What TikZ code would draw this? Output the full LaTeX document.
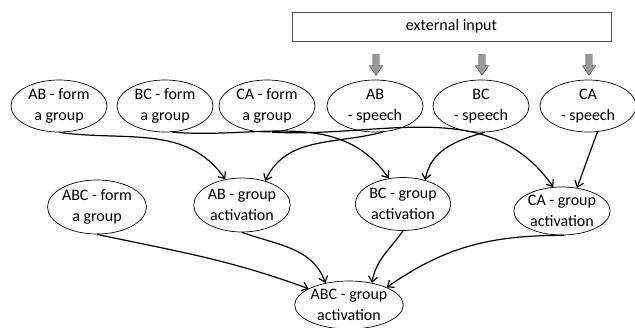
\documentclass[tikz,border=0pt]{standalone}
\usepackage{fontspec}
\setmainfont{Carlito}
\usepackage{tikz}
\usetikzlibrary{arrows.meta}
\usetikzlibrary{shapes.geometric}
\usetikzlibrary{shapes.arrows}

\begin{document}
\begin{tikzpicture}[x=1pt,y=1pt,
        oval/.style={draw,line width=0.7pt,ellipse,inner sep=0pt,align=center,font=\fontsize{16}{21}\selectfont,minimum width=96pt,minimum height=52pt},
        link/.style={line width=1.2pt,-{Straight Barb[length=5.5pt,width=9pt]}},
        feed/.style={draw=black!75,fill=black!40,single arrow,rotate=-90,inner sep=3pt,single arrow head extend=3.5pt,single arrow tip angle=70,minimum height=21pt}]
        \useasboundingbox (0,0) rectangle (635,-327);
        \node[draw=black!70,minimum width=319pt,minimum height=29pt,font=\fontsize{16}{21}\selectfont] (ext) at (451.5,-26.5) {external input};
        \node[oval] (abform) at (59,-106) {AB - form\\a group};
        \node[oval] (bcform) at (165,-106) {BC - form\\a group};
        \node[oval] (caform) at (267,-106) {CA - form\\a group};
        \node[oval] (absp) at (375,-106) {AB\\- speech};
        \node[oval] (bcsp) at (481,-106) {BC\\- speech};
        \node[oval] (casp) at (588,-106) {CA\\- speech};
        \node[feed] (inab) at (376,-62.5) {};
        \node[feed] (inbc) at (482,-62.5) {};
        \node[feed] (inca) at (589,-62.5) {};
        \node[oval,minimum height=54pt] (abcform) at (97,-207) {ABC - form\\a group};
        \node[oval,minimum width=92pt,minimum height=54pt] (abgrp) at (242,-205) {AB - group\\activation};
        \node[oval,minimum width=95pt,minimum height=53pt] (bcgrp) at (403,-204) {BC - group\\activation};
        \node[oval,minimum width=90pt,minimum height=48pt] (cagrp) at (562,-211) {CA - group\\activation};
        \node[oval,minimum width=107pt,minimum height=48pt] (abcgrp) at (349,-305) {ABC - group\\activation};
        \draw[link] (abform.south) to[out=-8,in=125] (abgrp.123);
        \draw[link] (bcform.-75) to[out=-5,in=125] (bcgrp.119);
        \draw[link] (caform.-79) to[out=-3,in=125] (cagrp.110);
        \draw[link] (absp.-73) to[out=-165,in=65] (abgrp.46);
        \draw[link] (bcsp.-81) to[out=-165,in=80] (bcgrp.47);
        \draw[link] (casp.-70) -- (cagrp.57);
        \draw[link] (abcform.south) to[out=-12,in=160] (abcgrp.158);
        \draw[link] (abgrp.south) to[out=-20,in=110] (abcgrp.137);
        \draw[link] (bcgrp.south) to[out=-125,in=80] (abcgrp.44);
        \draw[link] (cagrp.-85) to[out=180,in=35] (abcgrp.25);
\end{tikzpicture}
\end{document}
